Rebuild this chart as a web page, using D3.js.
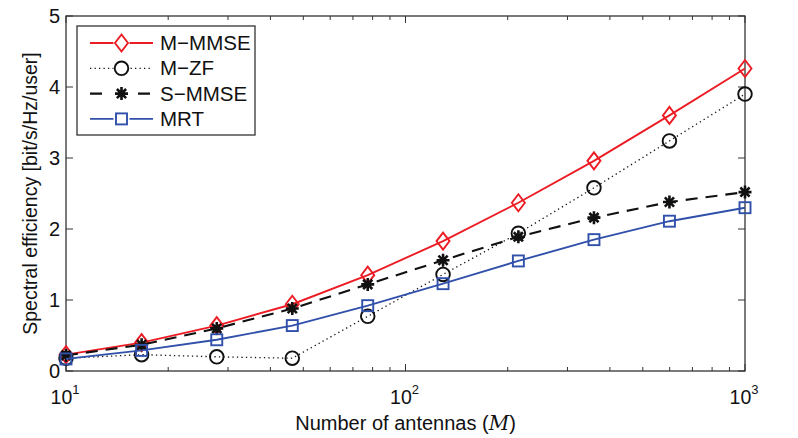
<!DOCTYPE html>
<html>
<head>
<meta charset="utf-8">
<script src="https://cdn.jsdelivr.net/npm/d3@7"></script>
<style>
  body { margin: 0; background: #fff; }
  svg { font-family: "Liberation Sans", Arial, Helvetica, sans-serif; }
</style>
</head>
<body>
<svg id="chart" width="798" height="438"></svg>
<script>
// antennas (log spaced, 10 points from 10 to 1000)
const antennas = [10, 16.7, 27.8, 46.4, 77.4, 129, 215, 359, 599, 1000];
const mMmse = [0.23, 0.40, 0.64, 0.94, 1.35, 1.83, 2.37, 2.96, 3.60, 4.26];
const mZf = [0.18, 0.23, 0.20, 0.18, 0.77, 1.36, 1.94, 2.58, 3.24, 3.90];
const sMmse = [0.22, 0.37, 0.60, 0.88, 1.22, 1.56, 1.89, 2.16, 2.38, 2.52];
const mrt = [0.17, 0.29, 0.44, 0.64, 0.92, 1.23, 1.55, 1.85, 2.11, 2.30];
const yTicks = [0, 1, 2, 3, 4, 5];
const xTicks = [10, 100, 1000];
const seriesNames = ['M−MMSE', 'M−ZF', 'S−MMSE', 'MRT'];

const svg = d3.select('#chart');
const margin = { left: 66, right: 53, top: 16, bottom: 67 };
const width = 798 - margin.left - margin.right;
const height = 438 - margin.top - margin.bottom;
const g = svg.append('g').attr('transform', `translate(${margin.left},${margin.top})`);

const x = d3.scaleLog().domain([10, 1000]).range([0, width]);
const y = d3.scaleLinear().domain([0, 5]).range([height, 0]);

const axisColor = '#333';
const red = '#ec1c24';
const blue = '#3050aa';

const series = [
  { name: seriesNames[0], values: mMmse, color: red, width: 1.9, dash: null, marker: 'diamond' },
  { name: seriesNames[1], values: mZf, color: '#111', width: 1.3, dash: '1.3,3.2', marker: 'circle' },
  { name: seriesNames[2], values: sMmse, color: '#111', width: 2.1, dash: '12,8', marker: 'star' },
  { name: seriesNames[3], values: mrt, color: blue, width: 1.9, dash: null, marker: 'square' },
];

// minor ticks on log axis
const minorTicks = [];
[10, 100].forEach(base => { for (let k = 2; k <= 9; k++) minorTicks.push(base * k); });

function drawMarker(sel, type, color) {
  if (type === 'diamond') {
    sel.append('path').attr('d', 'M0,-8.5L6.5,0L0,8.5L-6.5,0Z')
      .attr('fill', 'none').attr('stroke', color).attr('stroke-width', 1.9);
  } else if (type === 'circle') {
    sel.append('circle').attr('r', 6.8)
      .attr('fill', 'none').attr('stroke', color).attr('stroke-width', 1.9);
  } else if (type === 'square') {
    sel.append('rect').attr('x', -5.5).attr('y', -5.5).attr('width', 11).attr('height', 11)
      .attr('fill', 'none').attr('stroke', color).attr('stroke-width', 1.9);
  } else if (type === 'star') {
    const r = 6.5;
    const d = d3.range(4).map(i => {
      const a = i * Math.PI / 4;
      return `M${r * Math.cos(a)},${r * Math.sin(a)}L${-r * Math.cos(a)},${-r * Math.sin(a)}`;
    }).join('');
    sel.append('path').attr('d', d).attr('stroke', color).attr('stroke-width', 2.6);
  }
}

// frame
g.append('rect').attr('width', width).attr('height', height)
  .attr('fill', 'none').attr('stroke', axisColor).attr('stroke-width', 1.3);

// x ticks (bottom and top)
g.selectAll('.xmajor').data(xTicks).enter().append('path')
  .attr('d', d => `M${x(d)},${height}v-7M${x(d)},0v7`)
  .attr('stroke', axisColor);
g.selectAll('.xminor').data(minorTicks).enter().append('path')
  .attr('d', d => `M${x(d)},${height}v-4M${x(d)},0v4`)
  .attr('stroke', axisColor);

// y ticks (left and right)
g.selectAll('.ytick').data(yTicks).enter().append('path')
  .attr('d', d => `M0,${y(d)}h7M${width},${y(d)}h-7`)
  .attr('stroke', axisColor);

// tick labels
g.selectAll('.ylabel').data(yTicks).enter().append('text')
  .attr('x', -6).attr('y', d => y(d) + 7)
  .attr('text-anchor', 'end').attr('font-size', 20).attr('fill', '#111')
  .text(d => d);

const xl = g.selectAll('.xlabel').data(xTicks).enter().append('text')
  .attr('x', d => x(d) - 1).attr('y', height + 33)
  .attr('text-anchor', 'middle').attr('font-size', 19.5).attr('fill', '#111');
xl.append('tspan').text('10');
xl.append('tspan').attr('dy', -10).attr('font-size', 13)
  .text(d => Math.round(Math.log10(d)));

// axis titles
const xt = g.append('text').attr('x', width / 2 + 0).attr('y', height + 59)
  .attr('text-anchor', 'middle').attr('font-size', 20).attr('fill', '#111');
xt.append('tspan').text('Number of antennas (');
xt.append('tspan').attr('font-family', '"DejaVu Serif", "Liberation Serif", serif')
  .attr('font-style', 'italic').text('M');
xt.append('tspan').text(')');

g.append('text')
  .attr('transform', `translate(-29,${height / 2}) rotate(-90)`)
  .attr('text-anchor', 'middle').attr('font-size', 19.5).attr('fill', '#111')
  .text('Spectral efficiency [bit/s/Hz/user]');

// lines and markers
const line = d3.line().x(d => x(d[0])).y(d => y(d[1]));
series.forEach(s => {
  const pts = antennas.map((a, i) => [a, s.values[i]]);
  g.append('path').datum(pts).attr('d', line)
    .attr('fill', 'none').attr('stroke', s.color).attr('stroke-width', s.width)
    .attr('stroke-dasharray', s.dash);
  g.selectAll(null).data(pts).enter().append('g')
    .attr('transform', d => `translate(${x(d[0])},${y(d[1])})`)
    .each(function () { drawMarker(d3.select(this), s.marker, s.color); });
});

// legend
const legend = g.append('g').attr('transform', 'translate(11,10)');
legend.append('rect').attr('width', 178).attr('height', 109)
  .attr('fill', '#fff').attr('stroke', axisColor).attr('stroke-width', 1.3);
series.forEach((s, i) => {
  const row = legend.append('g').attr('transform', `translate(0,${17 + i * 25.3})`);
  row.append('path').attr('d', 'M13,0H76')
    .attr('stroke', s.color).attr('stroke-width', s.width)
    .attr('stroke-dasharray', s.marker === 'star' ? '12,12' : s.dash);
  const m = row.append('g').attr('transform', 'translate(44.5,0)');
  m.append('rect').attr('x', -8).attr('y', -8).attr('width', 16).attr('height', 16).attr('fill', '#fff');
  drawMarker(m, s.marker, s.color);
  row.append('text').attr('x', 83).attr('y', 7).attr('font-size', 20.5).attr('fill', '#111')
    .text(s.name);
});
</script>
</body>
</html>
